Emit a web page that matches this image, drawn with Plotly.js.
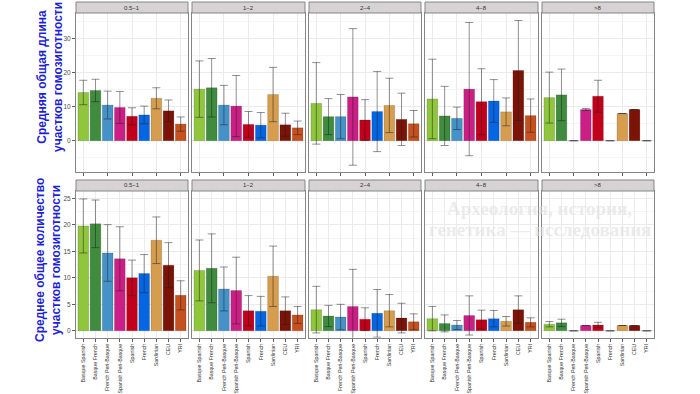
<!DOCTYPE html>
<html>
<head>
<meta charset="utf-8">
<script src="https://cdn.plot.ly/plotly-3.0.1.min.js"></script>
<style>html,body{margin:0;padding:0;background:#fff;}#chart{width:700px;height:394px;}</style>
</head>
<body>
<div id="chart"></div>
<script>
// ---------- DATA ----------
const categories = ['Basque Spanish','Basque French','French Peri-Basque','Spanish Peri-Basque','Spanish','French','Sardinian','CEU','YRI'];
const barColors = ['#8fc63c','#3f8c3f','#4592c9','#cc1f86','#c3001b','#0566e4','#d69d4e','#7b1306','#c5511f'];
const panelLabels = ['0.5\u22121','1\u22122','2\u22124','4\u22128','>8'];

// Row 1: mean total length of ROH segments
const length_05_1 = [14.2, 14.8, 10.5, 9.8, 7.2, 7.6, 12.5, 8.8, 4.9];
const lengthErr_05_1 = [3.6, 3.3, 4.1, 4.7, 2.5, 2.6, 3.1, 3.2, 2.1];
const length_1_2 = [15.2, 15.6, 10.5, 10.2, 4.8, 4.6, 13.6, 4.7, 3.8];
const lengthErr_1_2 = [8.3, 8.6, 5.8, 9.0, 3.8, 3.7, 8.0, 3.4, 2.0];
const length_2_4 = [11.0, 7.1, 7.1, 12.9, 6.1, 8.6, 10.4, 6.3, 5.0];
const lengthErr_2_4 = [12.0, 5.3, 6.5, 20.1, 6.0, 11.8, 8.0, 7.7, 3.9];
const length_4_8 = [12.3, 7.3, 6.6, 15.2, 11.5, 11.7, 8.5, 20.7, 7.4];
const lengthErr_4_8 = [11.7, 8.7, 3.3, 19.6, 9.7, 6.3, 4.1, 14.7, 4.9];
const length_8 = [12.7, 13.5, 0, 9.2, 13.1, 0, 8.0, 9.2, 0];
const lengthErr_8 = [7.5, 7.6, 0, 0.3, 4.7, 0, 0, 0, 0];

// Row 2: mean total number of ROH segments
const count_05_1 = [19.8, 20.2, 14.7, 13.6, 10.0, 10.8, 17.1, 12.4, 6.7];
const countErr_05_1 = [5.1, 4.5, 5.35, 6.05, 3.35, 3.6, 4.4, 4.25, 2.75];
const count_1_2 = [11.4, 11.8, 7.9, 7.6, 3.8, 3.7, 10.3, 3.8, 3.0];
const countErr_1_2 = [5.75, 6.5, 4.15, 6.3, 2.85, 2.8, 5.7, 2.6, 1.6];
const count_2_4 = [4.0, 2.8, 2.6, 4.6, 2.2, 3.3, 3.8, 2.4, 1.7];
const countErr_2_4 = [4.4, 2.0, 2.4, 7.0, 2.15, 4.5, 3.05, 2.8, 1.5];
const count_4_8 = [2.3, 1.4, 1.1, 2.9, 2.1, 2.3, 1.8, 4.0, 1.6];
const countErr_4_8 = [2.3, 1.6, 0.85, 3.7, 1.8, 1.55, 0.9, 2.6, 0.85];
const count_8 = [1.25, 1.5, 0, 1.0, 1.1, 0, 1.0, 1.0, 0];
const countErr_8 = [0.5, 0.7, 0, 0, 0.5, 0, 0, 0, 0];

const yTitleTop = 'Средняя общая длина<br>участков гомозиготности';
const yTitleBottom = 'Среднее общее количество<br>участков гомозиготности';
const watermark1 = 'Археология, история,';
const watermark2 = 'генетика — исследования';

const rows = [
  {means:[length_05_1,length_1_2,length_2_4,length_4_8,length_8], errs:[lengthErr_05_1,lengthErr_1_2,lengthErr_2_4,lengthErr_4_8,lengthErr_8]},
  {means:[count_05_1,count_1_2,count_2_4,count_4_8,count_8], errs:[countErr_05_1,countErr_1_2,countErr_2_4,countErr_4_8,countErr_8]}
];

// ---------- LAYOUT GEOMETRY (pixels) ----------
const W = 700, H = 394;
const colX = [[76,188],[192,305],[309,421],[425,538],[542,654]];
const rowY = [[13,172],[191,337.7]];
const stripY = [[2,13],[180,191]];
const yRanges = [[-9.2, 37.6],[-1.3, 26.4]];
const yDticks = [10, 5];
const yMinor = [5, 2.5];
const px = v => v / W;
const py = v => 1 - v / H;

const traces = [];
const layout = {
  width: W, height: H,
  margin: {l:0, r:0, t:0, b:0},
  paper_bgcolor: '#ffffff',
  plot_bgcolor: '#ffffff',
  showlegend: false,
  font: {family: 'Liberation Sans, Arial, sans-serif', color: '#4d4d4d'},
  bargap: 0.1,
  shapes: [],
  annotations: []
};

// watermark first (drawn beneath other annotations)
layout.annotations.push({
  xref: 'paper', yref: 'paper', x: px(539), y: py(208),
  xanchor: 'center', yanchor: 'middle', text: watermark1, showarrow: false,
  font: {size: 19, color: 'rgba(222,222,222,0.6)', family: 'Liberation Serif, serif', weight: 'bold'}
});
layout.annotations.push({
  xref: 'paper', yref: 'paper', x: px(540), y: py(229),
  xanchor: 'center', yanchor: 'middle', text: watermark2, showarrow: false,
  font: {size: 19, color: 'rgba(222,222,222,0.6)', family: 'Liberation Serif, serif', weight: 'bold'}
});

for (let r = 0; r < 2; r++) {
  for (let c = 0; c < 5; c++) {
    const idx = r * 5 + c + 1;
    const xName = 'xaxis' + (idx === 1 ? '' : idx);
    const yName = 'yaxis' + (idx === 1 ? '' : idx);
    const xRef = 'x' + (idx === 1 ? '' : idx);
    const yRef = 'y' + (idx === 1 ? '' : idx);
    traces.push({
      type: 'bar',
      x: categories,
      y: rows[r].means[c],
      xaxis: xRef, yaxis: yRef,
      width: 0.88,
      marker: {color: barColors, line: {color: 'rgba(0,0,0,0.25)', width: 0.6}},
      error_y: {type: 'data', array: rows[r].errs[c], visible: true,
                color: 'rgba(30,30,30,0.55)', thickness: 0.9, width: 4},
      hoverinfo: 'x+y'
    });
    layout[xName] = {
      domain: [px(colX[c][0]), px(colX[c][1])],
      anchor: yRef,
      type: 'category',
      categoryorder: 'array', categoryarray: categories,
      range: [-0.6, 8.6],
      showgrid: true, gridcolor: '#ebebeb', gridwidth: 1,
      showline: true, mirror: true, linecolor: '#858585', linewidth: 1,
      ticks: 'outside', ticklen: 3, tickwidth: 0.8, tickcolor: '#333333',
      showticklabels: r === 1,
      tickangle: -90,
      tickfont: {size: 5.3, color: '#333333'},
      zeroline: false, fixedrange: true
    };
    layout[yName] = {
      domain: [py(rowY[r][1]), py(rowY[r][0])],
      anchor: xRef,
      range: yRanges[r],
      tick0: 0, dtick: yDticks[r],
      minor: {dtick: yMinor[r], tick0: 0, showgrid: true, gridcolor: '#f5f5f5', gridwidth: 1},
      showgrid: true, gridcolor: '#ebebeb', gridwidth: 1,
      showline: true, mirror: true, linecolor: '#858585', linewidth: 1,
      ticks: c === 0 ? 'outside' : '', ticklen: 3, tickwidth: 0.8, tickcolor: '#333333',
      showticklabels: c === 0,
      tickfont: {size: 6.5, color: '#4d4d4d'},
      zeroline: false, fixedrange: true
    };
    // strip
    layout.shapes.push({
      type: 'rect', xref: 'paper', yref: 'paper',
      x0: px(colX[c][0]), x1: px(colX[c][1]),
      y0: py(stripY[r][1]), y1: py(stripY[r][0]),
      fillcolor: '#d7d2d4', line: {color: '#858585', width: 1}
    });
    layout.annotations.push({
      xref: 'paper', yref: 'paper',
      x: px((colX[c][0] + colX[c][1]) / 2), y: py((stripY[r][0] + stripY[r][1]) / 2),
      xanchor: 'center', yanchor: 'middle',
      text: panelLabels[c], showarrow: false,
      font: {size: 6, color: '#333333'}
    });
  }
}

// y titles
layout.annotations.push({
  xref: 'paper', yref: 'paper', x: px(50), y: py(77),
  xanchor: 'center', yanchor: 'middle', textangle: -90,
  text: yTitleTop, showarrow: false,
  font: {size: 12, color: '#1f1fd6', family: 'Liberation Sans, Arial, sans-serif', weight: 'bold'}
});
layout.annotations.push({
  xref: 'paper', yref: 'paper', x: px(48), y: py(260),
  xanchor: 'center', yanchor: 'middle', textangle: -90,
  text: yTitleBottom, showarrow: false,
  font: {size: 12, color: '#1f1fd6', family: 'Liberation Sans, Arial, sans-serif', weight: 'bold'}
});

Plotly.newPlot('chart', traces, layout, {displayModeBar: false, staticPlot: true});
</script>
</body>
</html>
